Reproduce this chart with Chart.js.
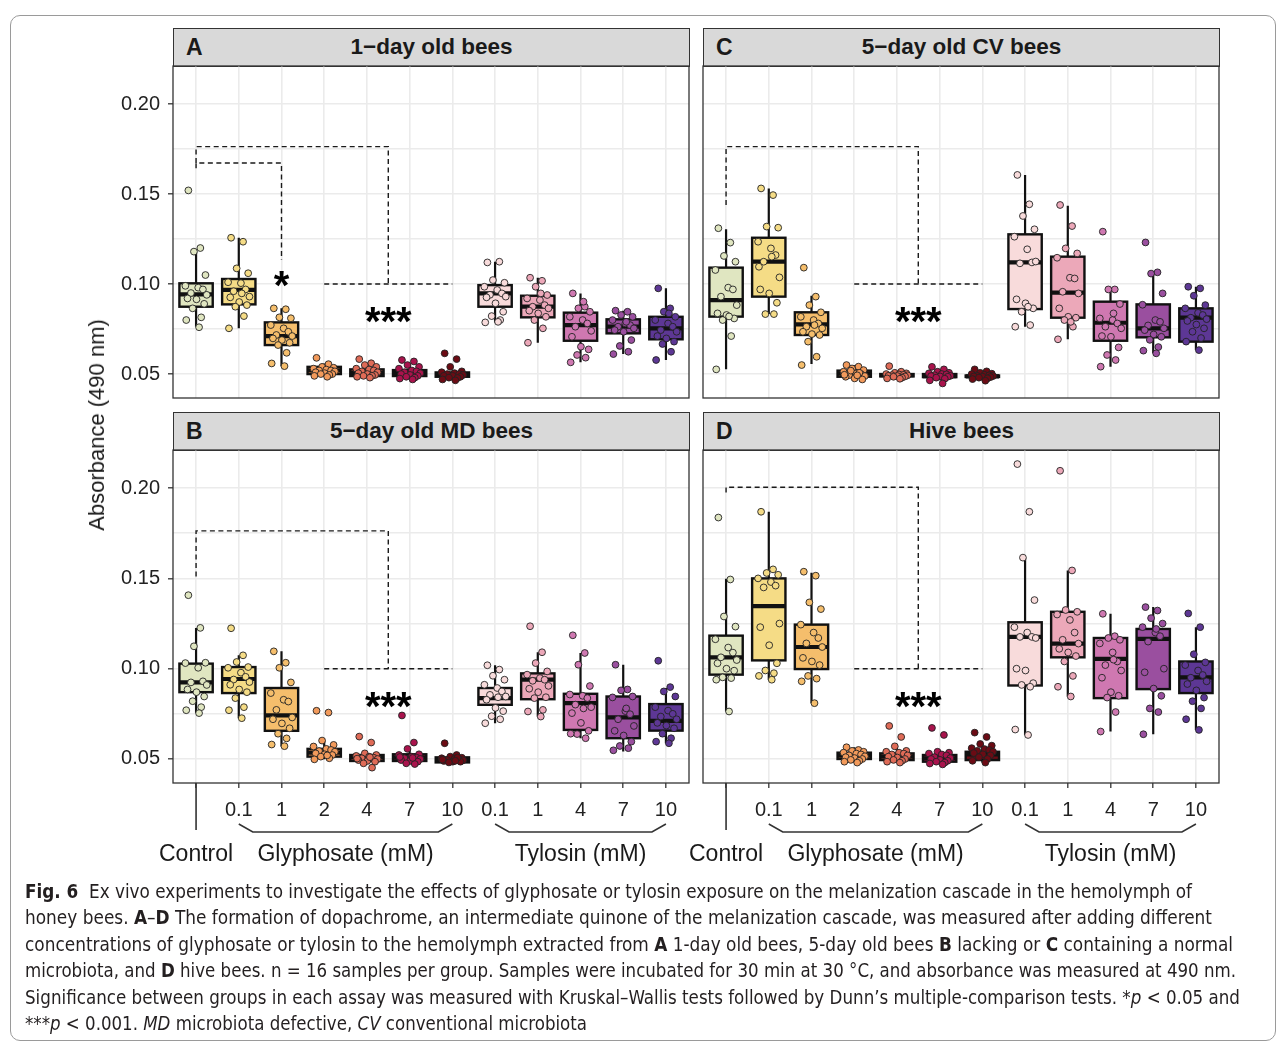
<!DOCTYPE html>
<html>
<head>
<meta charset="utf-8">
<script src="https://cdn.jsdelivr.net/npm/chart.js@4.4.1/dist/chart.umd.min.js"></script>
<style>
  body { margin: 0; background: #fff; width: 1282px; height: 1042px; position: relative; overflow: hidden;
         font-family: "Liberation Sans", Arial, sans-serif; color: #1a1a1a; }
  #frame { position: absolute; left: 10px; top: 15px; width: 1266px; height: 1026px;
           border: 1px solid #9a9a9a; border-radius: 10px; box-sizing: border-box; }
  canvas { position: absolute; }
  .strip { position: absolute; height: 39px; background: #d9d9d9; border: 1.3px solid #333; box-sizing: border-box;
           font-weight: bold; font-size: 22.5px; line-height: 36px; text-align: center; }
  .strip b { position: absolute; left: 12px; top: 0; font-size: 23px; }
  #ytitle { position: absolute; left: 97px; top: 425px; transform: translate(-50%, -50%) rotate(-90deg);
            font-size: 22px; white-space: nowrap; }
  #caption { position: absolute; left: 25px; top: 878px; font-family: "Liberation Sans Narrow", "DejaVu Sans Condensed", Lato, sans-serif;
             font-size: 19px; line-height: 26.4px; color: #231f20; }
  #caption .ln { display: block; white-space: nowrap; transform-origin: left center; width: max-content; }
</style>
</head>
<body>
<div id="frame"></div>

<div class="strip" style="left:173px;top:28px;width:517px"><b>A</b>1−day old bees</div>
<div class="strip" style="left:703px;top:28px;width:517px"><b>C</b>5−day old CV bees</div>
<div class="strip" style="left:173px;top:412px;width:517px"><b>B</b>5−day old MD bees</div>
<div class="strip" style="left:703px;top:412px;width:517px"><b>D</b>Hive bees</div>

<canvas id="pA" width="595" height="345" style="left:100px;top:60px"></canvas>
<canvas id="pC" width="585" height="345" style="left:640px;top:60px"></canvas>
<canvas id="pB" width="595" height="442" style="left:100px;top:444px"></canvas>
<canvas id="pD" width="585" height="442" style="left:640px;top:444px"></canvas>

<div id="ytitle">Absorbance (490 nm)</div>

<div id="caption">
  <span class="ln" data-w="1167"><b>Fig. 6</b>&nbsp; Ex vivo experiments to investigate the effects of glyphosate or tylosin exposure on the melanization cascade in the hemolymph of</span>
  <span class="ln" data-w="1187">honey bees. <b>A</b>–<b>D</b> The formation of dopachrome, an intermediate quinone of the melanization cascade, was measured after adding different</span>
  <span class="ln" data-w="1208">concentrations of glyphosate or tylosin to the hemolymph extracted from <b>A</b> 1-day old bees, 5-day old bees <b>B</b> lacking or <b>C</b> containing a normal</span>
  <span class="ln" data-w="1211">microbiota, and <b>D</b> hive bees. n = 16 samples per group. Samples were incubated for 30 min at 30 °C, and absorbance was measured at 490 nm.</span>
  <span class="ln" data-w="1215">Significance between groups in each assay was measured with Kruskal–Wallis tests followed by Dunn’s multiple-comparison tests. *<i>p</i> &lt; 0.05 and</span>
  <span class="ln" data-w="562">***<i>p</i> &lt; 0.001. <i>MD</i> microbiota defective, <i>CV</i> conventional microbiota</span>
</div>

<script>
// categories: Control, glyphosate 0.1-10 mM, tylosin 0.1-10 mM
const X_POS = [1, 2, 3, 4, 5, 6, 7, 8, 9, 10, 11, 12];
const X_TICK_LABELS = ['', '0.1', '1', '2', '4', '7', '10', '0.1', '1', '4', '7', '10'];
const Y_GRID = [0.05, 0.075, 0.10, 0.125, 0.15, 0.175, 0.20];
const Y_MIN = 0.0367, Y_MAX = 0.2211;

// panel A: 1-day old bees
const A_LO  = [0.0763, 0.0754, 0.0544, 0.0485, 0.0480, 0.0470, 0.0465, 0.0787, 0.0674, 0.0565, 0.0611, 0.0578];
const A_Q1  = [0.0874, 0.0887, 0.0661, 0.0500, 0.0489, 0.0489, 0.0485, 0.0874, 0.0815, 0.0685, 0.0726, 0.0693];
const A_MED = [0.0943, 0.0967, 0.0711, 0.0520, 0.0507, 0.0505, 0.0498, 0.0948, 0.0874, 0.0772, 0.0763, 0.0754];
const A_Q3  = [0.1004, 0.1028, 0.0787, 0.0540, 0.0526, 0.0522, 0.0509, 0.0994, 0.0935, 0.0841, 0.0804, 0.0818];
const A_HI  = [0.1180, 0.1257, 0.0865, 0.0559, 0.0550, 0.0555, 0.0520, 0.1124, 0.1035, 0.0948, 0.0852, 0.0976];
const A_PTS = [
  [0.152, 0.120, 0.118, 0.105, 0.099, 0.098, 0.097, 0.095, 0.094, 0.092, 0.0915, 0.089, 0.0865, 0.0815, 0.080, 0.076],
  [0.1257, 0.1235, 0.1087, 0.106, 0.101, 0.1005, 0.097, 0.096, 0.093, 0.0926, 0.090, 0.0883, 0.0874, 0.0822, 0.0754, 0.0948],
  [0.0865, 0.086, 0.0815, 0.081, 0.0772, 0.0754, 0.0735, 0.0717, 0.0711, 0.0698, 0.0689, 0.0674, 0.0661, 0.0618, 0.0559, 0.0544],
  [0.059, 0.0555, 0.054, 0.0535, 0.053, 0.0525, 0.052, 0.052, 0.0515, 0.051, 0.0505, 0.050, 0.050, 0.0495, 0.049, 0.0485],
  [0.0583, 0.056, 0.055, 0.054, 0.053, 0.0525, 0.052, 0.0515, 0.051, 0.0505, 0.050, 0.0495, 0.049, 0.049, 0.0485, 0.048],
  [0.0578, 0.057, 0.055, 0.054, 0.053, 0.052, 0.0515, 0.051, 0.0505, 0.050, 0.0495, 0.049, 0.0485, 0.048, 0.0475, 0.047],
  [0.0615, 0.0583, 0.054, 0.0515, 0.051, 0.0505, 0.050, 0.050, 0.0495, 0.049, 0.049, 0.0485, 0.048, 0.0478, 0.047, 0.0465],
  [0.112, 0.1124, 0.1022, 0.1007, 0.0985, 0.0967, 0.0948, 0.094, 0.093, 0.0926, 0.0893, 0.0846, 0.0822, 0.080, 0.0787, 0.079],
  [0.1035, 0.1018, 0.0985, 0.0939, 0.092, 0.0911, 0.0883, 0.0874, 0.0865, 0.0852, 0.0837, 0.0818, 0.080, 0.0754, 0.0674, 0.0948],
  [0.0948, 0.0874, 0.0865, 0.0846, 0.0818, 0.080, 0.0781, 0.0763, 0.074, 0.0707, 0.0652, 0.0637, 0.0606, 0.0591, 0.0565, 0.0902],
  [0.0852, 0.0846, 0.0828, 0.0818, 0.080, 0.0781, 0.0772, 0.0763, 0.0754, 0.0744, 0.0735, 0.0689, 0.0656, 0.0624, 0.0611, 0.079],
  [0.0976, 0.0865, 0.0846, 0.0818, 0.080, 0.0781, 0.0763, 0.0744, 0.0735, 0.0711, 0.0698, 0.068, 0.0667, 0.0624, 0.0578, 0.0837]
];

// panel C: 5-day old CV bees
const C_LO  = [0.0526, 0.0833, 0.0556, 0.0470, 0.0474, 0.0465, 0.0470, 0.0763, 0.0693, 0.0541, 0.0615, 0.0633];
const C_Q1  = [0.0819, 0.0930, 0.0717, 0.0485, 0.0487, 0.0483, 0.0484, 0.0861, 0.0813, 0.0685, 0.0704, 0.0680];
const C_MED = [0.0911, 0.1124, 0.0776, 0.0502, 0.0494, 0.0489, 0.0487, 0.1120, 0.0952, 0.0785, 0.0754, 0.0813];
const C_Q3  = [0.1091, 0.1257, 0.0843, 0.0519, 0.0500, 0.0500, 0.0492, 0.1276, 0.1152, 0.0902, 0.0887, 0.0865];
const C_HI  = [0.1304, 0.1531, 0.0935, 0.0550, 0.0507, 0.0513, 0.0507, 0.1606, 0.1435, 0.0970, 0.1065, 0.0985];
const C_PTS = [
  [0.131, 0.123, 0.1156, 0.1124, 0.1078, 0.098, 0.097, 0.093, 0.0883, 0.0837, 0.0828, 0.0809, 0.080, 0.0711, 0.0526, 0.082],
  [0.1531, 0.1494, 0.1319, 0.1313, 0.1235, 0.1198, 0.1161, 0.1124, 0.1037, 0.097, 0.0948, 0.0896, 0.0833, 0.0833, 0.1096, 0.1152],
  [0.1091, 0.093, 0.0883, 0.0843, 0.0818, 0.080, 0.0781, 0.0763, 0.0754, 0.0735, 0.0722, 0.0717, 0.068, 0.0596, 0.055, 0.0772],
  [0.055, 0.0541, 0.0531, 0.0522, 0.0513, 0.0504, 0.050, 0.0494, 0.0489, 0.0485, 0.0476, 0.047, 0.0519, 0.0507, 0.0496, 0.0493],
  [0.0544, 0.0513, 0.0507, 0.0504, 0.050, 0.0498, 0.0496, 0.0494, 0.0493, 0.049, 0.0489, 0.0487, 0.0485, 0.048, 0.0476, 0.0474],
  [0.054, 0.0526, 0.0513, 0.0507, 0.0504, 0.050, 0.0498, 0.0494, 0.049, 0.0489, 0.0487, 0.0485, 0.048, 0.0474, 0.0465, 0.0448],
  [0.0526, 0.0515, 0.0507, 0.0502, 0.050, 0.0496, 0.0493, 0.049, 0.0489, 0.0487, 0.0485, 0.0483, 0.048, 0.0476, 0.0472, 0.0463],
  [0.1606, 0.1443, 0.1378, 0.1304, 0.1263, 0.1193, 0.112, 0.1115, 0.1125, 0.0915, 0.0893, 0.0865, 0.0846, 0.0772, 0.0763, 0.0874],
  [0.1439, 0.1322, 0.1198, 0.117, 0.1146, 0.1035, 0.1031, 0.0957, 0.0948, 0.0865, 0.0818, 0.0813, 0.080, 0.0763, 0.0693, 0.079],
  [0.1291, 0.097, 0.097, 0.0889, 0.0809, 0.080, 0.0781, 0.0763, 0.0754, 0.0711, 0.0707, 0.0648, 0.0606, 0.0578, 0.0541, 0.0837],
  [0.1231, 0.1065, 0.1058, 0.0948, 0.0885, 0.080, 0.079, 0.077, 0.0754, 0.0744, 0.072, 0.0707, 0.069, 0.065, 0.063, 0.0615],
  [0.0985, 0.0976, 0.0935, 0.0883, 0.0865, 0.084, 0.0828, 0.0813, 0.0805, 0.0795, 0.0775, 0.0754, 0.0735, 0.070, 0.068, 0.0633]
];

// panel B: 5-day old MD bees
const B_LO  = [0.0754, 0.0726, 0.0569, 0.0498, 0.0476, 0.0472, 0.0481, 0.0698, 0.0735, 0.0615, 0.0541, 0.0587];
const B_Q1  = [0.0870, 0.0865, 0.0656, 0.0513, 0.0489, 0.0489, 0.0481, 0.0800, 0.0831, 0.0661, 0.0615, 0.0657];
const B_MED = [0.0924, 0.0943, 0.0741, 0.0535, 0.0509, 0.0507, 0.0494, 0.0837, 0.0939, 0.0809, 0.0730, 0.0711];
const B_Q3  = [0.1028, 0.1009, 0.0893, 0.0556, 0.0522, 0.0526, 0.0509, 0.0893, 0.0974, 0.0861, 0.0846, 0.0804];
const B_HI  = [0.1226, 0.1074, 0.1096, 0.0602, 0.0531, 0.0556, 0.0522, 0.1019, 0.1091, 0.1087, 0.1022, 0.0893];
const B_PTS = [
  [0.1407, 0.1226, 0.1124, 0.1033, 0.1031, 0.1005, 0.093, 0.0924, 0.091, 0.0885, 0.087, 0.0846, 0.082, 0.0787, 0.077, 0.0754],
  [0.1224, 0.1074, 0.1037, 0.1009, 0.1005, 0.0978, 0.0955, 0.094, 0.0926, 0.0911, 0.0885, 0.087, 0.0837, 0.0787, 0.077, 0.0726],
  [0.1096, 0.1033, 0.1005, 0.0924, 0.0865, 0.0828, 0.0818, 0.0772, 0.073, 0.072, 0.0697, 0.067, 0.064, 0.0614, 0.058, 0.0571],
  [0.0767, 0.0757, 0.0602, 0.0578, 0.0569, 0.0556, 0.055, 0.0544, 0.054, 0.0531, 0.0526, 0.0522, 0.0513, 0.0504, 0.0498, 0.052],
  [0.0624, 0.0591, 0.0531, 0.0522, 0.0517, 0.0513, 0.0507, 0.0504, 0.050, 0.0494, 0.0489, 0.0485, 0.0476, 0.0452, 0.0502, 0.051],
  [0.0741, 0.0591, 0.0556, 0.0526, 0.0522, 0.0513, 0.0507, 0.0504, 0.050, 0.0494, 0.0489, 0.0485, 0.0476, 0.0472, 0.0511, 0.0506],
  [0.0587, 0.0522, 0.0513, 0.0507, 0.0504, 0.050, 0.0498, 0.0494, 0.0493, 0.0489, 0.0485, 0.0485, 0.0481, 0.0507, 0.0496, 0.049],
  [0.1019, 0.0995, 0.0961, 0.0939, 0.0911, 0.0893, 0.0874, 0.0855, 0.0846, 0.0828, 0.0783, 0.0765, 0.0737, 0.072, 0.0698, 0.0842],
  [0.1235, 0.1091, 0.1031, 0.0985, 0.0967, 0.0948, 0.0939, 0.0933, 0.0905, 0.0889, 0.087, 0.0842, 0.0837, 0.0772, 0.0763, 0.0735],
  [0.1185, 0.1087, 0.1022, 0.0904, 0.0857, 0.085, 0.0837, 0.0801, 0.0787, 0.0754, 0.070, 0.0656, 0.0638, 0.0615, 0.064, 0.078],
  [0.1022, 0.0885, 0.088, 0.0846, 0.0841, 0.0765, 0.0748, 0.072, 0.0683, 0.0656, 0.063, 0.0596, 0.0572, 0.056, 0.0548, 0.078],
  [0.1044, 0.0898, 0.0874, 0.0846, 0.0787, 0.0768, 0.075, 0.0735, 0.072, 0.070, 0.0685, 0.067, 0.064, 0.0615, 0.0596, 0.0587]
];

// panel D: hive bees
const D_LO  = [0.0763, 0.0939, 0.0809, 0.0480, 0.0480, 0.0470, 0.0480, 0.0633, 0.0846, 0.0652, 0.0637, 0.0661];
const D_Q1  = [0.0967, 0.1046, 0.0998, 0.0500, 0.0494, 0.0485, 0.0494, 0.0907, 0.1063, 0.0837, 0.0887, 0.0865];
const D_MED = [0.1063, 0.1346, 0.1120, 0.0519, 0.0513, 0.0504, 0.0526, 0.1176, 0.1139, 0.1054, 0.1165, 0.0952];
const D_Q3  = [0.1183, 0.1500, 0.1244, 0.0535, 0.0531, 0.0522, 0.0540, 0.1257, 0.1315, 0.1170, 0.1220, 0.1040];
const D_HI  = [0.1498, 0.1869, 0.1531, 0.0565, 0.0570, 0.0540, 0.0583, 0.1615, 0.1544, 0.1304, 0.1341, 0.1230];
const D_PTS = [
  [0.1837, 0.1494, 0.1289, 0.1233, 0.1163, 0.1117, 0.1089, 0.1063, 0.1048, 0.103, 0.100, 0.0989, 0.0952, 0.0948, 0.0939, 0.0763],
  [0.1869, 0.155, 0.153, 0.152, 0.150, 0.148, 0.146, 0.145, 0.125, 0.123, 0.113, 0.103, 0.099, 0.0975, 0.096, 0.0939],
  [0.1537, 0.1515, 0.1367, 0.133, 0.1244, 0.120, 0.117, 0.114, 0.112, 0.106, 0.104, 0.102, 0.096, 0.0945, 0.093, 0.0809],
  [0.0565, 0.055, 0.0545, 0.054, 0.0535, 0.053, 0.0525, 0.052, 0.0515, 0.051, 0.0505, 0.050, 0.0495, 0.049, 0.0485, 0.048],
  [0.0683, 0.0622, 0.057, 0.0545, 0.054, 0.0535, 0.053, 0.0525, 0.052, 0.0513, 0.0508, 0.050, 0.0495, 0.049, 0.0485, 0.048],
  [0.0672, 0.0633, 0.054, 0.0535, 0.053, 0.0525, 0.052, 0.051, 0.0505, 0.050, 0.0495, 0.049, 0.0485, 0.048, 0.0475, 0.047],
  [0.0646, 0.0622, 0.0583, 0.0574, 0.056, 0.0555, 0.055, 0.0545, 0.054, 0.0533, 0.0526, 0.052, 0.051, 0.050, 0.049, 0.048],
  [0.2133, 0.1869, 0.1615, 0.138, 0.123, 0.120, 0.1176, 0.1176, 0.117, 0.100, 0.099, 0.092, 0.091, 0.090, 0.0663, 0.0633],
  [0.2096, 0.1544, 0.1325, 0.1315, 0.130, 0.127, 0.120, 0.116, 0.1139, 0.111, 0.109, 0.107, 0.104, 0.096, 0.090, 0.0846],
  [0.1304, 0.118, 0.117, 0.116, 0.114, 0.109, 0.104, 0.102, 0.099, 0.095, 0.087, 0.085, 0.084, 0.076, 0.0652, 0.105],
  [0.1341, 0.1322, 0.128, 0.125, 0.123, 0.120, 0.118, 0.115, 0.100, 0.098, 0.089, 0.085, 0.078, 0.076, 0.0637, 0.122],
  [0.1306, 0.123, 0.108, 0.1035, 0.102, 0.099, 0.0965, 0.095, 0.093, 0.0915, 0.088, 0.084, 0.082, 0.078, 0.072, 0.0661]
];

// significance brackets (x in category units, y in absorbance)
const A_BRACKETS = [
  [[1, 0.1672], [1, 0.1763], [5.5, 0.1763], [5.5, 0.100]],
  [[1, 0.1643], [1, 0.1672], [3, 0.1672], [3, 0.1133]],
  [[4, 0.100], [7, 0.100]]
];
const C_BRACKETS = [[[1, 0.1439], [1, 0.1763], [5.5, 0.1763], [5.5, 0.100]], [[4, 0.100], [7, 0.100]]];
const B_BRACKETS = [[[1, 0.1510], [1, 0.1763], [5.5, 0.1763], [5.5, 0.100]], [[4, 0.100], [7, 0.100]]];
const D_BRACKETS = [[[1, 0.1975], [1, 0.2005], [5.5, 0.2005], [5.5, 0.100]], [[4, 0.100], [7, 0.100]]];
const A_STARS = [[3, 0.1045, '*'], [5.5, 0.0842, '***']];
const OTHER_STARS = [[5.5, 0.0842, '***']];

// styling
const FILL = ['#e0e6c1', '#f5dc86', '#f5be6c', '#f29a5b', '#df6b57', '#a9134c', '#6b0b14',
              '#f8dbdb', '#eca8b9', '#cf78b1', '#9a4f9f', '#5d3795'];
const JIT = [-0.18, 0.10, -0.05, 0.22, -0.25, 0.05, 0.16, -0.12, 0.25, -0.20, 0.01, 0.19, -0.08, 0.12, -0.23, 0.07];
const FONT = '"Liberation Sans", Arial, sans-serif';
const INK = '#1a1a1a';

function isMajor(v) { return Math.abs(v * 20 - Math.round(v * 20)) < 1e-6; }

function makePanel(cfg) {
  const datasets = cfg.pts.map((vals, i) => ({
    data: vals.map((v, k) => ({ x: X_POS[i] + JIT[k], y: v })),
    backgroundColor: FILL[i],
    borderColor: '#222',
    borderWidth: 0.9,
    pointRadius: 3.4
  }));

  const boxes = {
    id: 'boxes',
    beforeDatasetsDraw(chart) {
      const { ctx, scales: { x, y } } = chart;
      const half = x.getPixelForValue(1.39) - x.getPixelForValue(1);
      ctx.save();
      ctx.strokeStyle = '#111';
      X_POS.forEach((g, i) => {
        const cx = x.getPixelForValue(g);
        const yLo = y.getPixelForValue(cfg.lo[i]), yHi = y.getPixelForValue(cfg.hi[i]);
        const y1 = y.getPixelForValue(cfg.q1[i]), y3 = y.getPixelForValue(cfg.q3[i]);
        const ym = y.getPixelForValue(cfg.med[i]);
        ctx.lineWidth = 2.2;
        ctx.beginPath();
        ctx.moveTo(cx, yHi); ctx.lineTo(cx, y3);
        ctx.moveTo(cx, y1); ctx.lineTo(cx, yLo);
        ctx.stroke();
        ctx.fillStyle = FILL[i];
        ctx.fillRect(cx - half, y3, 2 * half, y1 - y3);
        ctx.lineWidth = 2.4;
        ctx.strokeRect(cx - half, y3, 2 * half, y1 - y3);
        ctx.lineWidth = 4.2;
        ctx.beginPath();
        ctx.moveTo(cx - half, ym); ctx.lineTo(cx + half, ym);
        ctx.stroke();
      });
      ctx.restore();
    },
    afterDatasetsDraw(chart) {
      const { ctx, scales: { x, y } } = chart;
      ctx.save();
      ctx.strokeStyle = INK;
      ctx.lineWidth = 1.4;
      ctx.setLineDash([5, 3.5]);
      cfg.brackets.forEach(path => {
        ctx.beginPath();
        path.forEach(([px, py], k) => {
          const X = x.getPixelForValue(px), Y = y.getPixelForValue(py);
          if (k === 0) ctx.moveTo(X, Y); else ctx.lineTo(X, Y);
        });
        ctx.stroke();
      });
      ctx.setLineDash([]);
      ctx.fillStyle = '#000';
      ctx.font = 'bold 40px ' + FONT;
      ctx.textAlign = 'center';
      ctx.textBaseline = 'alphabetic';
      cfg.stars.forEach(([px, py, s]) => {
        ctx.fillText(s, x.getPixelForValue(px), y.getPixelForValue(py) + 23);
      });
      ctx.restore();
    },
    afterDraw(chart) {
      const { ctx, chartArea: ca, scales: { x } } = chart;
      ctx.save();
      ctx.strokeStyle = '#333';
      ctx.lineWidth = 1.3;
      ctx.strokeRect(ca.left, ca.top, ca.right - ca.left, ca.bottom - ca.top);
      if (cfg.bottom) {
        const b = ca.bottom;
        ctx.lineWidth = 1.6;
        ctx.beginPath();
        ctx.moveTo(x.getPixelForValue(1), b); ctx.lineTo(x.getPixelForValue(1), b + 47);
        [[2, 7], [8, 12]].forEach(([g0, g1]) => {
          const x0 = x.getPixelForValue(g0), x1 = x.getPixelForValue(g1);
          ctx.moveTo(x0, b + 41); ctx.lineTo(x0 + 14, b + 49);
          ctx.lineTo(x1 - 14, b + 49); ctx.lineTo(x1, b + 41);
        });
        ctx.stroke();
        ctx.fillStyle = INK;
        ctx.font = '23px ' + FONT;
        ctx.textAlign = 'center';
        ctx.textBaseline = 'middle';
        ctx.fillText('Control', x.getPixelForValue(1), b + 72);
        ctx.fillText('Glyphosate (mM)', (x.getPixelForValue(2) + x.getPixelForValue(7)) / 2, b + 72);
        ctx.fillText('Tylosin (mM)', (x.getPixelForValue(8) + x.getPixelForValue(12)) / 2, b + 72);
      }
      ctx.restore();
    }
  };

  new Chart(document.getElementById(cfg.id), {
    type: 'scatter',
    data: { datasets },
    options: {
      responsive: false,
      animation: false,
      devicePixelRatio: 1,
      layout: { padding: cfg.pad },
      plugins: { legend: { display: false }, tooltip: { enabled: false } },
      scales: {
        x: {
          type: 'linear', min: 0.46, max: 12.54,
          afterBuildTicks: s => { s.ticks = X_POS.map(v => ({ value: v })); },
          afterFit: s => { s.height = cfg.bottom ? cfg.xh : 0; s.paddingLeft = 0; s.paddingRight = 0; },
          border: { display: false },
          grid: { color: '#ebebeb', lineWidth: 1.6, drawTicks: cfg.bottom, tickLength: 5,
                  tickColor: '#333', tickWidth: 1.3 },
          ticks: { display: cfg.bottom, autoSkip: false, maxRotation: 0, padding: 10, color: '#222',
                   font: { size: 20, family: FONT }, callback: (v, i) => X_TICK_LABELS[i] }
        },
        y: {
          type: 'linear', min: Y_MIN, max: Y_MAX,
          afterBuildTicks: s => { s.ticks = Y_GRID.map(v => ({ value: v })); },
          afterFit: s => { s.width = cfg.left ? 73 : 0; s.paddingTop = 0; s.paddingBottom = 0; },
          border: { display: false },
          grid: { color: '#ebebeb', lineWidth: 1.6, drawTicks: cfg.left, tickLength: 5, tickWidth: 1.3,
                  tickColor: c => (c.tick && isMajor(c.tick.value)) ? '#333' : 'rgba(0,0,0,0)' },
          ticks: { display: cfg.left, padding: 8, color: '#222', font: { size: 20, family: FONT },
                   callback: v => isMajor(v) ? v.toFixed(2) : '' }
        }
      }
    },
    plugins: [boxes]
  });
}

makePanel({ id: 'pA', left: true, bottom: false, pad: { top: 6, bottom: 7, left: 0, right: 6 },
  lo: A_LO, q1: A_Q1, med: A_MED, q3: A_Q3, hi: A_HI, pts: A_PTS, brackets: A_BRACKETS, stars: A_STARS });
makePanel({ id: 'pC', left: false, bottom: false, pad: { top: 6, bottom: 7, left: 63, right: 6 },
  lo: C_LO, q1: C_Q1, med: C_MED, q3: C_Q3, hi: C_HI, pts: C_PTS, brackets: C_BRACKETS, stars: OTHER_STARS });
makePanel({ id: 'pB', left: true, bottom: true, xh: 103, pad: { top: 6, bottom: 0, left: 0, right: 6 },
  lo: B_LO, q1: B_Q1, med: B_MED, q3: B_Q3, hi: B_HI, pts: B_PTS, brackets: B_BRACKETS, stars: OTHER_STARS });
makePanel({ id: 'pD', left: false, bottom: true, xh: 103, pad: { top: 6, bottom: 0, left: 63, right: 6 },
  lo: D_LO, q1: D_Q1, med: D_MED, q3: D_Q3, hi: D_HI, pts: D_PTS, brackets: D_BRACKETS, stars: OTHER_STARS });

// squeeze each caption line to the width it has in the figure
document.querySelectorAll('#caption .ln').forEach(el => {
  const w = el.getBoundingClientRect().width;
  el.style.transform = 'scaleX(' + (el.dataset.w / w) + ')';
});
</script>
</body>
</html>
